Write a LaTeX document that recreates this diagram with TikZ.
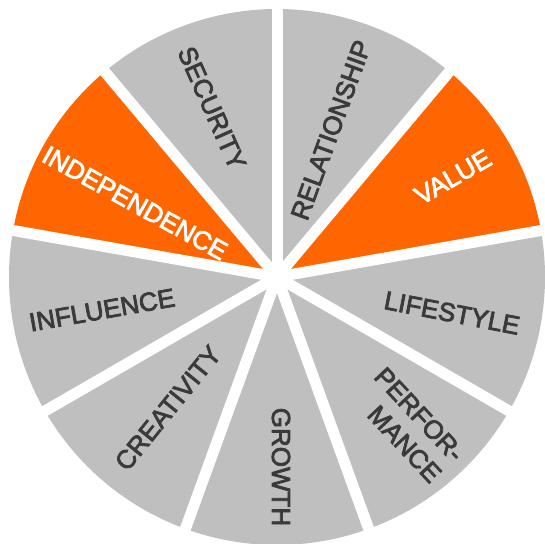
\documentclass[tikz,border=0pt]{standalone}
\usepackage{fontspec}
\setmainfont{Liberation Sans}
\newfontface\lblfont{Liberation Sans}[FakeBold=3]
\usetikzlibrary{calc}
\definecolor{segGrey}{HTML}{BFBFBF}
\definecolor{segOrange}{HTML}{FF6600}
\definecolor{labelDark}{HTML}{3A3A3A}
\begin{document}
\begin{tikzpicture}[x=1pt,y=1pt,
  greyseg/.style={fill=segGrey},
  orangeseg/.style={fill=segOrange},
  gapline/.style={draw=white,line width=11pt},
  lbl/.style={font=\lblfont\fontsize{26}{31}\selectfont, text=labelDark, inner sep=0pt},
  lblw/.style={lbl, text=white}]
\useasboundingbox (0,0) rectangle (545,543);
\clip (0,0) rectangle (545,543);
\coordinate (C) at (277,266);
\def\R{268}
\foreach \a/\s in {90/greyseg, 50/orangeseg, 10/greyseg, -30/greyseg, -70/greyseg, -110/greyseg, -150/greyseg, 170/orangeseg, 130/greyseg}
  \fill[\s] (C) -- ++(\a:\R) arc[start angle=\a, delta angle=-40, radius=\R] -- cycle;
\foreach \a in {90,50,10,-30,-70,-110,-150,170,130}
  \draw[gapline] (C) -- ++(\a:\R+12);
\node[lbl, rotate=-66] (security) at ($(C)+(-65,169)$) {SECURITY};
\node[lbl, rotate=70] (relationship) at ($(C)+(54,147)$) {RELATIONSHIP};
\node[lblw, rotate=30] (value) at ($(C)+(176,100)$) {VALUE};
\node[lbl, rotate=-11] (lifestyle) at ($(C)+(175,-36)$) {LIFESTYLE};
\node[lbl, rotate=-47, align=right] (performance) at ($(C)+(131,-148)$) {PERFOR-\\MANCE};
\node[lbl, rotate=-90] (growth) at ($(C)+(4,-190)$) {GROWTH};
\node[lbl, rotate=51] (creativity) at ($(C)+(-109,-131)$) {CREATIVITY};
\node[lbl, rotate=10] (influence) at ($(C)+(-175,-33)$) {INFLUENCE};
\node[lblw, rotate=-29] (independence) at ($(C)+(-142,74)$) {INDEPENDENCE};
\end{tikzpicture}
\end{document}
